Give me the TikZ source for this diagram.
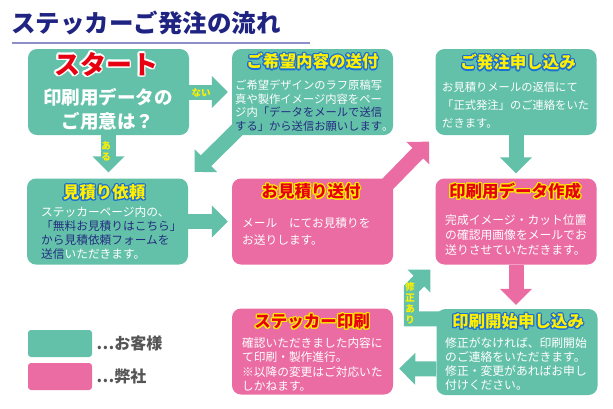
\documentclass[tikz,border=0pt]{standalone}
\usepackage{fontspec}
\setmainfont{Noto Sans CJK JP}
\usepackage[copies]{contour}
\contourlength{1.2pt}
\contournumber{12}
\usetikzlibrary{arrows.meta,calc}
\definecolor{cust}{HTML}{64C1A9}
\definecolor{shop}{HTML}{EA6CA3}
\definecolor{navytxt}{HTML}{232D80}
\definecolor{headnavy}{HTML}{1F2382}
\definecolor{rulecol}{HTML}{8C8FC9}
\definecolor{hiyel}{HTML}{FFF000}
\definecolor{olblue}{HTML}{1C6FD6}
\definecolor{hired}{HTML}{E60012}
\definecolor{legtext}{HTML}{555555}
\pgfdeclarelayer{bg}
\pgfsetlayers{bg,main}
\tikzset{
  box/.style={rounded corners=9pt, minimum width=161pt, minimum height=86pt, inner sep=0pt},
  ctitle/.style={font=\fontsize{16.5}{18}\selectfont\bfseries, text=hiyel},
  stitle/.style={font=\fontsize{16.5}{18}\selectfont\bfseries, text=hired},
  body/.style={font=\fontsize{11.5}{14}\selectfont, text=white, align=left, anchor=north west, inner sep=0pt},
  tealflow/.style={draw=cust, line width=15pt, -{Triangle[length=16pt,width=31pt]}},
  pinkflow/.style={draw=shop, line width=15pt, -{Triangle[length=16pt,width=31pt]}},
  arrowlbl/.style={font=\fontsize{9.5}{11}\selectfont\bfseries, text=hiyel, align=center, inner sep=0pt},
  legend/.style={font=\fontsize{16}{17}\selectfont\bfseries, text=legtext, anchor=west, inner sep=0pt},
}

\begin{document}
\begin{tikzpicture}[x=1pt, y=-1pt]
  \useasboundingbox (0,0) rectangle (613,408);

  % heading
  \node[font=\fontsize{24.5}{26}\selectfont\bfseries, text=headnavy, anchor=west, inner sep=0pt] (head) at (11,23) {ステッカーご発注の流れ};
  \draw[rulecol, line width=2pt] (12,43) -- (310,43);

  % boxes
  \foreach \n/\x/\y/\c in {start/108.5/92/cust, kibou/312.5/92/cust, hatchu/516/92/cust,
                           mitsumori/107.5/221.5/cust, okuri/312.5/221.5/shop, data/516/221.5/shop,
                           insatsu/312.5/351.5/shop, kaishi/517/352/cust}
    { \node[box, fill=\c] (\n) at (\x,\y) {}; }

  % arrows
  \begin{pgfonlayer}{bg}
    \fill[white] (0,0) rectangle (613,408);
    \draw[tealflow, shorten >=4pt] (start.east) -- (kibou.west |- start.east);
    \draw[tealflow, shorten >=6pt] (start.south) -- (start.south |- mitsumori.north);
    \draw[tealflow, shorten <=-14pt, shorten >=9pt] (kibou.south west) -- (mitsumori.north east);
    \draw[tealflow, shorten >=4pt] (mitsumori.east) -- (okuri.west);
    \draw[pinkflow, shorten <=-14pt, shorten >=9pt] (okuri.north east) -- (hatchu.south west);
    \draw[tealflow, shorten >=5pt] (hatchu.south) -- (data.north);
    \draw[pinkflow, shorten >=4pt] (data.south) -- (data.south |- kaishi.north);
    \draw[tealflow, line join=miter] ($(kaishi.north west)+(10,10)$) -| ($(data.south west)+(-24,24)$) -- ($(data.south west)+(-5,5)$);
    \draw[tealflow, shorten >=6pt] ($(kaishi.west)+(0,17)$) -- ($(insatsu.east)+(0,17)$);
  \end{pgfonlayer}
  \node[arrowlbl] (nai) at (201,93) {ない};
  \node[arrowlbl] (aru) at (106,151) {あ\\る};
  \node[arrowlbl] (shusei) at (410,303) {修\\正\\あ\\り};

  % start
  \node[font=\fontsize{26}{27}\selectfont\bfseries, text=hired] (start-t) at (106,65) {\contourlength{1.6pt}\contour{white}{スタート}};
  \node[font=\fontsize{18.5}{24}\selectfont\bfseries, text=white, align=center] (start-q) at (108,109) {印刷用データの\\ご用意は？};

  % titles
  \node[ctitle] (kibou-t) at (312.5,62) {\contour{olblue}{ご希望内容の送付}};
  \node[ctitle] (hatchu-t) at (518,63) {\contour{olblue}{ご発注申し込み}};
  \node[ctitle] (mitsumori-t) at (104,193) {\contour{olblue}{見積り依頼}};
  \node[stitle] (okuri-t) at (311,192) {\contour{hiyel}{お見積り送付}};
  \node[stitle] (data-t) at (515,192) {\contour{hiyel}{印刷用データ作成}};
  \node[ctitle] (kaishi-t) at (518,322) {\contour{olblue}{印刷開始申し込み}};
  \node[stitle] (insatsu-t) at (312,322) {\contour{hiyel}{ステッカー印刷}};

  % texts
  \node[body, font=\fontsize{11.3}{13.7}\selectfont] (kibou-b) at (235,79.5)
    {ご希望デザインのラフ原稿写\\真や製作イメージ内容をペー\\ジ内\textcolor{navytxt}{「データをメールで送信}\\\textcolor{navytxt}{する」から送信お願いします}。};
  \node[body, font=\fontsize{11.3}{18}\selectfont] (hatchu-b) at (442,81.5)
    {お見積りメールの返信にて\\「正式発注」のご連絡をいた\\だきます。};
  \node[body, font=\fontsize{11.7}{14}\selectfont] (mitsumori-b) at (41,206.5)
    {ステッカーページ内の、\\\textcolor{navytxt}{「無料お見積りはこちら」}\\\textcolor{navytxt}{から見積依頼フォームを}\\\textcolor{navytxt}{送信}いただきます。};
  \node[body, font=\fontsize{11.7}{17}\selectfont] (okuri-b) at (242,217.5)
    {メール　にてお見積りを\\お送りします。};
  \node[body, font=\fontsize{11.8}{15}\selectfont] (data-b) at (445,214.5)
    {完成イメージ・カット位置\\の確認用画像をメールでお\\送りさせていただきます。};
  \node[body, font=\fontsize{11.8}{14}\selectfont] (kaishi-b) at (445,337.5)
    {修正がなければ、印刷開始\\のご連絡をいただきます。\\修正・変更があればお申し\\付けください。};
  \node[body, font=\fontsize{11.7}{14.3}\selectfont] (insatsu-b) at (242,337.5)
    {確認いただきました内容に\\て印刷・製作進行。\\※以降の変更はご対応いた\\しかねます。};

  % legend
  \node[fill=cust, rounded corners=3pt, minimum width=64pt, minimum height=27pt, inner sep=0pt] (leg-c) at (60,343.5) {};
  \node[fill=shop, rounded corners=3pt, minimum width=64pt, minimum height=27pt, inner sep=0pt] (leg-s) at (60,376.5) {};
  \node[legend] (leg-c-t) at ($(leg-c.east)+(4,0)$) {…お客様};
  \node[legend] (leg-s-t) at ($(leg-s.east)+(4,0)$) {…弊社};
\end{tikzpicture}
\end{document}
